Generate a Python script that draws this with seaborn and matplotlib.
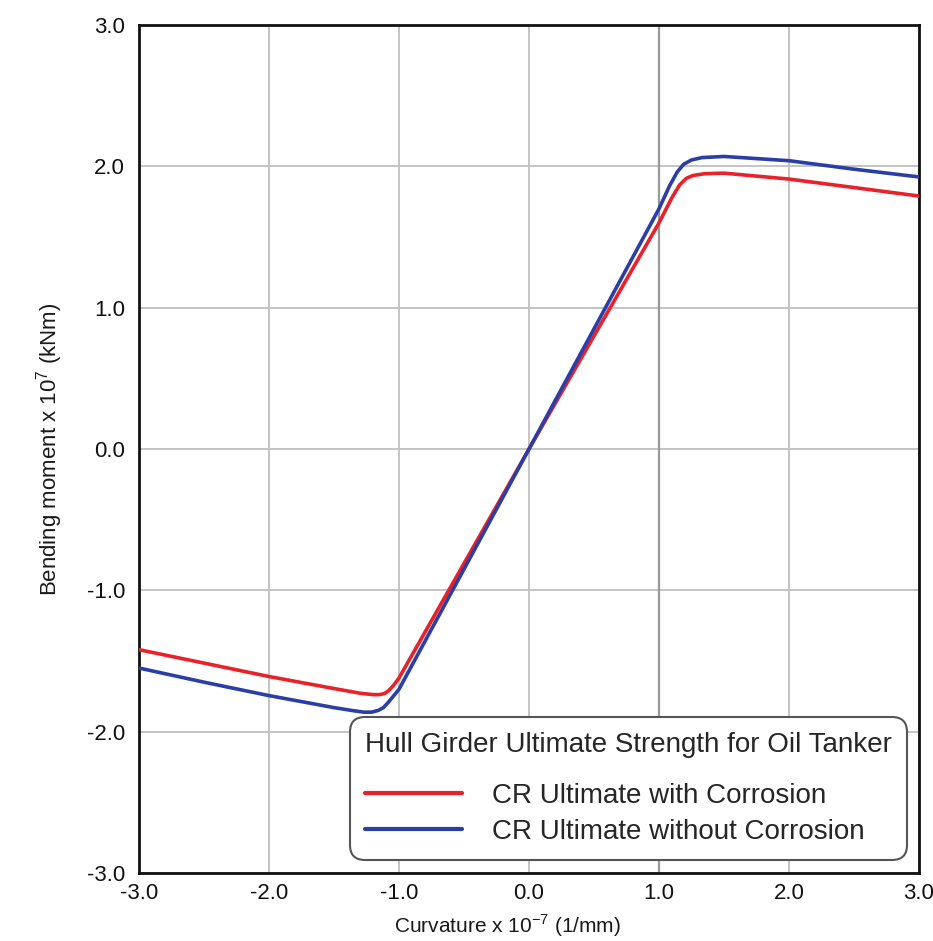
import matplotlib
matplotlib.use("Agg")
import matplotlib.pyplot as plt
import seaborn as sns
import pandas as pd

# Curvature (x 1e-7 1/mm) and bending moment (x 1e7 kNm) for each case
curv_with = [-3.0, -2.5, -2.0, -1.5, -1.3, -1.2, -1.15, -1.11, -1.08, -1.04, -1.0, 0.0,
             1.0, 1.1, 1.16, 1.21, 1.26, 1.35, 1.5, 2.0, 2.5, 3.0]
moment_with = [-1.42, -1.515, -1.61, -1.695, -1.728, -1.738, -1.738, -1.73, -1.71, -1.67, -1.62, 0.0,
               1.60, 1.78, 1.87, 1.915, 1.935, 1.948, 1.952, 1.91, 1.85, 1.79]

curv_without = [-3.0, -2.5, -2.0, -1.5, -1.35, -1.27, -1.21, -1.16, -1.12, -1.08, -1.0, 0.0,
                1.0, 1.08, 1.14, 1.19, 1.25, 1.33, 1.5, 2.0, 2.5, 3.0]
moment_without = [-1.55, -1.65, -1.745, -1.83, -1.852, -1.862, -1.862, -1.85, -1.83, -1.79, -1.70, 0.0,
                  1.70, 1.86, 1.96, 2.015, 2.045, 2.062, 2.07, 2.04, 1.98, 1.925]

series_names = ["CR Ultimate with Corrosion", "CR Ultimate without Corrosion"]
series_colors = ["#e8212b", "#2b3ea6"]
ticks = [-3.0, -2.0, -1.0, 0.0, 1.0, 2.0, 3.0]
tick_labels = ["-3.0", "-2.0", "-1.0", "0.0", "1.0", "2.0", "3.0"]

df = pd.concat([
    pd.DataFrame({"curvature": curv_with, "moment": moment_with, "case": series_names[0]}),
    pd.DataFrame({"curvature": curv_without, "moment": moment_without, "case": series_names[1]}),
], ignore_index=True)

sns.set_theme(style="whitegrid")
plt.rcParams["font.family"] = ["Liberation Sans", "DejaVu Sans"]
plt.rcParams["mathtext.fontset"] = "custom"
plt.rcParams["mathtext.rm"] = "Liberation Sans"

fig = plt.figure(figsize=(9.33, 9.41), dpi=100)
ax = fig.add_axes([0.149, 0.0723, 0.836, 0.9011])

sns.lineplot(data=df, x="curvature", y="moment", hue="case",
             hue_order=series_names, palette=series_colors,
             linewidth=2.6, ax=ax, sort=False, zorder=3)

ax.set_xlim(-3, 3)
ax.set_ylim(-3, 3)
ax.set_xticks(ticks)
ax.set_xticklabels(tick_labels)
ax.set_yticks(ticks)
ax.set_yticklabels(tick_labels)
ax.grid(True, color="#c4c4c4", linewidth=1.4)
ax.axvline(1.0, color="#9a9a9a", linewidth=1.6, zorder=1)
ax.tick_params(axis="both", length=0, labelsize=16, labelcolor="#111111")
ax.tick_params(axis="x", pad=7)
ax.tick_params(axis="y", pad=10)
for s in ax.spines.values():
    s.set_color("#111111")
    s.set_linewidth(2.0)
ax.set_facecolor("white")

ax.set_xlabel("Curvature x 10$^{\\mathregular{-7}}$ (1/mm)", fontsize=15, color="#1a1a1a")
ax.set_ylabel("Bending moment x 10$^{\\mathregular{7}}$ (kNm)", fontsize=16, color="#1a1a1a")
ax.xaxis.label.set_va("center")
ax.xaxis.set_label_coords(0.473, -0.062)
ax.yaxis.set_label_coords(-0.095, 0.5)

leg = ax.legend(title="Hull Girder Ultimate Strength for Oil Tanker",
                loc="lower right", bbox_to_anchor=(0.985, 0.015),
                borderaxespad=0, fontsize=20, title_fontsize=20,
                handlelength=3.5, handletextpad=1.08, labelspacing=0.36,
                borderpad=0.55, frameon=True, fancybox=True, framealpha=1)
leg._legend_box.align = "left"
leg._legend_box.sep = 18
frame = leg.get_frame()
frame.set_boxstyle("round", pad=0, rounding_size=0.55)
frame.set_edgecolor("#555555")
frame.set_linewidth(1.5)
for line in leg.get_lines():
    line.set_linewidth(3.0)

fig.savefig("out.png", dpi=100, facecolor="white")
